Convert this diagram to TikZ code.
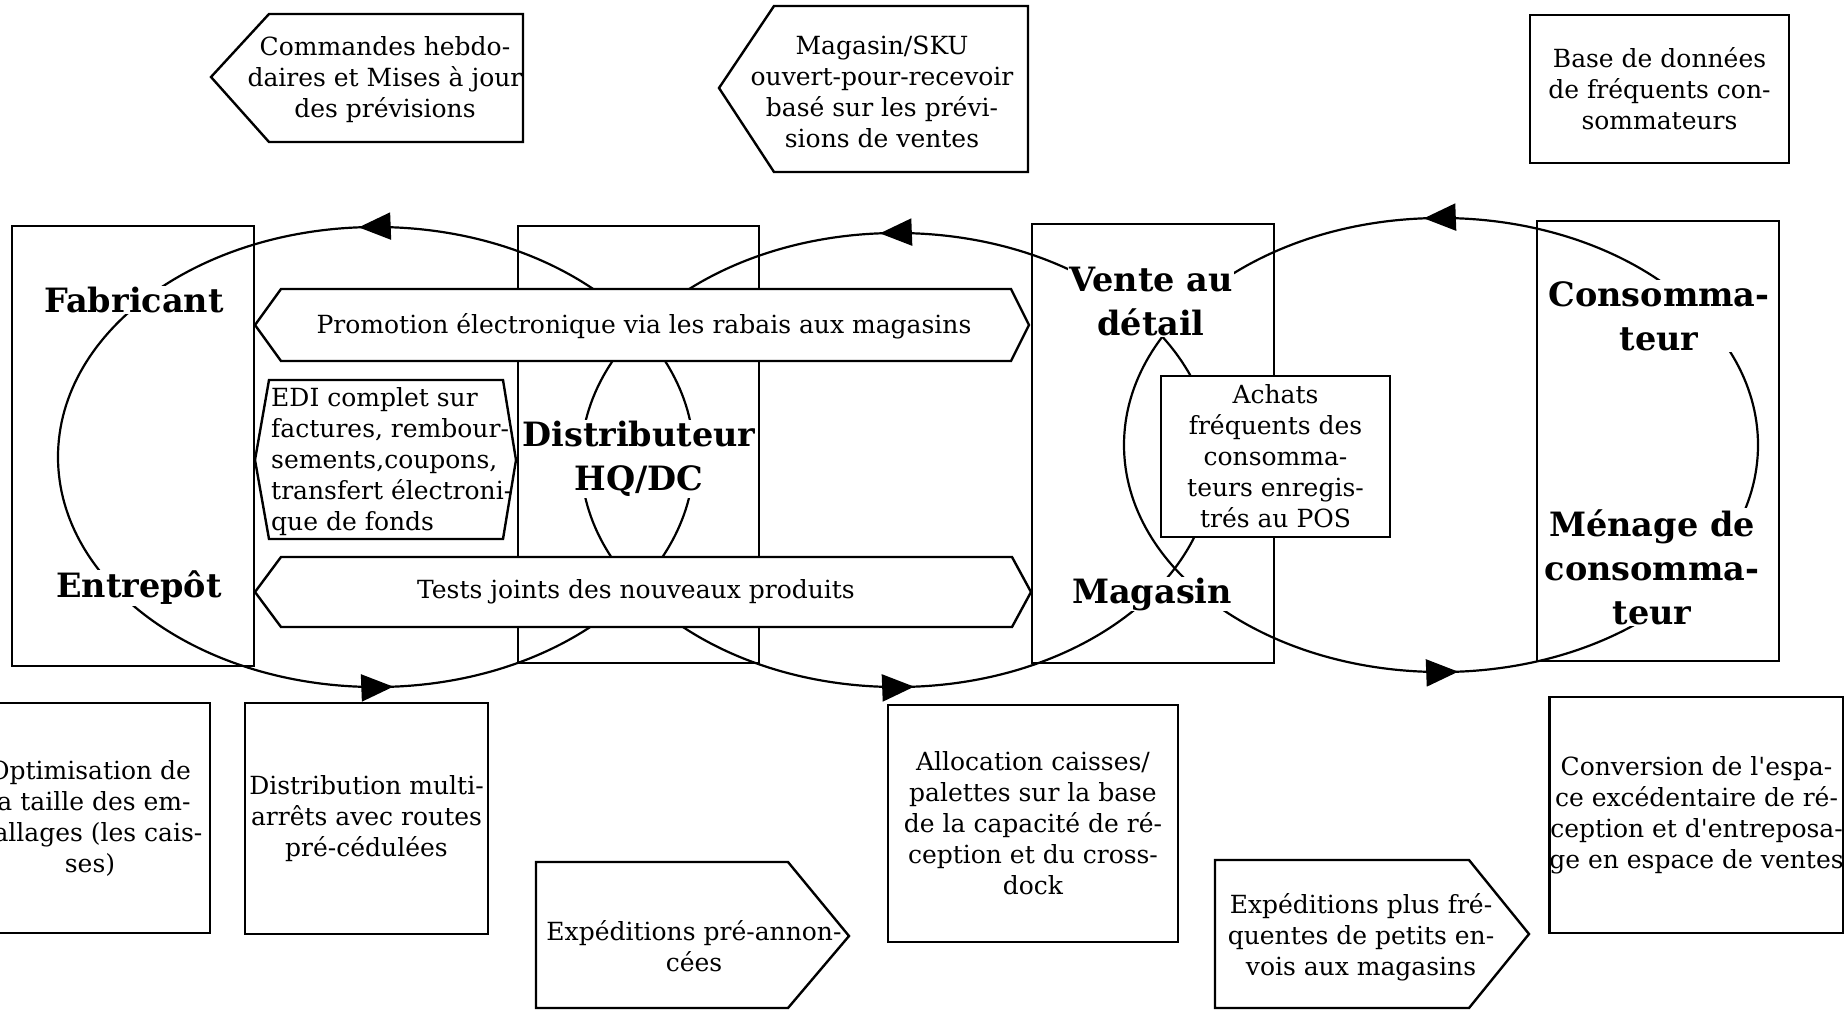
\documentclass[tikz,border=0pt]{standalone}
\usepackage{fontspec}
\setmainfont{DejaVu Serif}
\usetikzlibrary{arrows.meta,decorations.markings}

\begin{document}
\begin{tikzpicture}[x=1pt,y=1pt,
  boucle/.style={line width=2.2pt,postaction={decorate},decoration={markings,
    mark=at position 0.26 with {\arrow{Triangle[length=32pt,width=27pt]}},
    mark=at position 0.76 with {\arrow{Triangle[length=32pt,width=27pt]}}}},
  acteur/.style={fill=white,inner sep=1pt,align=center,font=\fontsize{33.5}{44}\selectfont\bfseries},
  cadre/.style={line width=2.4pt},
  fleche/.style={draw,line width=2.4pt,fill=white},
  texte/.style={align=center,inner sep=0pt,font=\fontsize{25}{31}\selectfont},
  boite/.style={texte,draw,line width=2.4pt,fill=white}]
\useasboundingbox (0,0) rectangle (1844,-1010);
\fill[white] (0,0) rectangle (1844,-1010);

% les trois boucles
\draw[boucle] (376,-457) ellipse [x radius=318, y radius=230];
\draw[boucle] (897,-460) ellipse [x radius=316, y radius=227];
\draw[boucle] (1441,-445) ellipse [x radius=317, y radius=227];

\node[acteur] (fab) at (134,-300) {Fabricant};
\node[acteur] (ent) at (139,-588) {Entrepôt};
\node[acteur] (dist) at (639,-459) {Distributeur\\HQ/DC};
\node[acteur] (vente) at (1151,-302) {Vente au\\détail};
\node[acteur] (mag) at (1152,-594) {Magasin};
\node[acteur] (cons) at (1659,-316) {Consomma-\\teur};
\node[acteur] (men) at (1652,-567) {Ménage de\\consomma-\\teur};

\draw[cadre] (12,-226) rectangle (254,-666);
\draw[cadre] (518,-226) rectangle (759,-663);
\draw[cadre] (1032,-224) rectangle (1274,-663);
\draw[cadre] (1537,-221) rectangle (1779,-661);

% en haut
\draw[fleche] (211,-77) -- (269,-14) -- (523,-14) -- (523,-142) -- (269,-142) -- cycle;
\node[texte] (cmd) at (385,-80) {Commandes hebdo-\\daires et Mises à jour\\des prévisions};
\draw[fleche] (719,-88) -- (774,-6) -- (1028,-6) -- (1028,-172) -- (774,-172) -- cycle;
\node[texte] (sku) at (882,-92) {Magasin/SKU\\ouvert-pour-recevoir\\basé sur les prévi-\\sions de ventes};
\node[boite,minimum width=259pt,minimum height=148pt] (base) at (1659.5,-89) {Base de données\\de fréquents con-\\sommateurs};

% au milieu
\draw[fleche] (255,-325) -- (281,-289) -- (1011,-289) -- (1029,-325) -- (1011,-361) -- (281,-361) -- cycle;
\node[texte] (promo) at (644,-326) {Promotion électronique via les rabais aux magasins};
\draw[fleche] (255,-460) -- (269,-380) -- (503,-380) -- (516,-460) -- (503,-539) -- (269,-539) -- cycle;
\node[texte,align=left,anchor=west] (edi) at (271,-462) {EDI complet sur\\factures, rembour-\\sements,coupons,\\transfert électroni-\\que de fonds};
\draw[fleche] (255,-592) -- (281,-557) -- (1012,-557) -- (1031,-592) -- (1012,-627) -- (281,-627) -- cycle;
\node[texte] (tests) at (636,-592) {Tests joints des nouveaux produits};
\node[boite,minimum width=229pt,minimum height=161pt] (achats) at (1275.5,-456.5) {Achats\\fréquents des\\consomma-\\teurs enregis-\\trés au POS};

% en bas
\node[boite,minimum width=240pt,minimum height=230pt] (optim) at (90,-818) {Optimisation de\\la taille des em-\\ballages (les cais-\\ses)};
\node[boite,minimum width=243pt,minimum height=231pt] (distrib) at (366.5,-818.5) {Distribution multi-\\arrêts avec routes\\pré-cédulées};
\draw[fleche] (536,-862) -- (788,-862) -- (849,-936) -- (788,-1008) -- (536,-1008) -- cycle;
\node[texte] (preann) at (694,-946) {Expéditions pré-annon-\\cées};
\node[boite,minimum width=290pt,minimum height=237pt] (alloc) at (1033,-823.5) {Allocation caisses/\\palettes sur la base\\de la capacité de ré-\\ception et du cross-\\dock};
\draw[fleche] (1215,-860) -- (1469,-860) -- (1529,-934) -- (1469,-1008) -- (1215,-1008) -- cycle;
\node[texte] (freq) at (1361,-937) {Expéditions plus fré-\\quentes de petits en-\\vois aux magasins};
\node[boite,minimum width=289pt,minimum height=236pt] (conv) at (1696.5,-815) {Conversion de l\textquotesingle espa-\\ce excédentaire de ré-\\ception et d\textquotesingle entreposa-\\ge en espace de ventes};

\end{tikzpicture}
\end{document}
